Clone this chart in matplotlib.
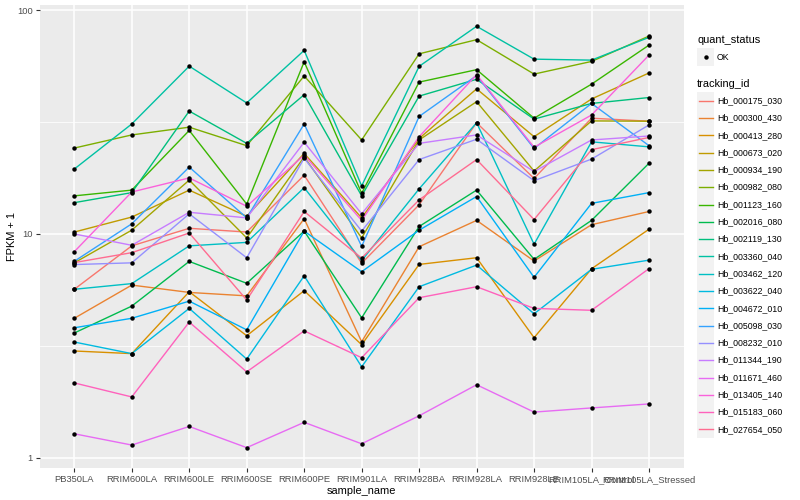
import numpy as np
import matplotlib
matplotlib.use("Agg")
import matplotlib.pyplot as plt
from matplotlib.patches import Rectangle
from matplotlib.lines import Line2D

plt.rcParams['font.family'] = ['Liberation Sans', 'DejaVu Sans']

# ---------------------------------------------------------------------------
# Data (FPKM + 1)
# ---------------------------------------------------------------------------
samples = ["PB350LA", "RRIM600LA", "RRIM600LE", "RRIM600SE", "RRIM600PE",
           "RRIM901LA", "RRIM928BA", "RRIM928LA", "RRIM928LE",
           "RRIM105LA_Control", "RRIM105LA_Stressed"]

tracking_ids = ["Hb_000175_030", "Hb_000300_430", "Hb_000413_280", "Hb_000673_020",
                "Hb_000934_190", "Hb_000982_080", "Hb_001123_160", "Hb_002016_080",
                "Hb_002119_130", "Hb_003360_040", "Hb_003462_120", "Hb_003622_040",
                "Hb_004672_010", "Hb_005098_030", "Hb_008232_010", "Hb_011344_190",
                "Hb_011671_460", "Hb_013405_140", "Hb_015183_060", "Hb_027654_050"]

hb_000175_030 = [5.66, 8.85, 10.6, 10.2, 18.3, 7.4, 13.5, 31.4, 17.7, 32.9, 31.9]
hb_000300_430 = [4.2, 5.91, 5.48, 5.29, 11.7, 3.3, 8.77, 11.5, 7.57, 11.0, 12.6]
hb_000413_280 = [3.0, 2.92, 5.52, 3.51, 5.58, 3.2, 7.31, 7.83, 3.44, 6.99, 10.5]
hb_000673_020 = [10.2, 11.9, 15.7, 12.0, 22.9, 11.8, 26.7, 44.5, 27.2, 40.1, 52.4]
hb_000934_190 = [7.43, 10.4, 17.4, 9.6, 22.1, 9.6, 26.3, 39.0, 19.1, 32.0, 31.9]
hb_000982_080 = [24.2, 27.7, 30.0, 24.8, 50.8, 26.3, 63.8, 73.8, 51.8, 59.0, 76.6]
hb_001123_160 = [14.8, 15.7, 29.0, 13.6, 58.8, 15.2, 47.7, 54.2, 32.9, 46.7, 69.8]
hb_002016_080 = [3.61, 4.76, 7.54, 6.02, 10.3, 4.22, 10.8, 15.7, 7.7, 11.5, 20.7]
hb_002119_130 = [13.8, 15.3, 35.4, 25.4, 41.9, 14.8, 41.3, 49.1, 32.6, 38.3, 40.7]
hb_003360_040 = [19.5, 31.0, 56.2, 38.5, 66.1, 16.4, 56.1, 84.7, 60.4, 59.8, 75.6]
hb_003462_120 = [5.66, 6.0, 8.85, 9.17, 16.1, 7.6, 15.9, 31.4, 9.0, 25.8, 24.5]
hb_003622_040 = [3.29, 2.92, 4.65, 2.76, 6.5, 2.55, 5.81, 7.26, 4.40, 6.95, 7.64]
hb_004672_010 = [3.81, 4.2, 5.01, 3.73, 10.3, 6.78, 10.4, 14.7, 6.4, 13.7, 15.3]
hb_005098_030 = [7.55, 11.1, 19.9, 11.8, 31.0, 8.8, 33.5, 51.0, 24.1, 38.3, 24.8]
hb_008232_010 = [7.3, 7.43, 12.3, 7.83, 21.8, 10.3, 21.5, 26.5, 17.3, 21.6, 30.7]
hb_011344_190 = [10.0, 8.9, 12.5, 11.8, 25.7, 12.3, 25.4, 27.7, 19.0, 26.3, 27.4]
hb_011671_460 = [1.28, 1.14, 1.38, 1.11, 1.44, 1.155, 1.54, 2.12, 1.60, 1.67, 1.74]
hb_013405_140 = [8.33, 15.4, 17.8, 13.3, 22.5, 11.5, 27.2, 51.5, 24.4, 34.0, 63.0]
hb_015183_060 = [2.16, 1.87, 4.04, 2.42, 3.69, 2.80, 5.19, 5.81, 4.65, 4.56, 7.0]
hb_027654_050 = [7.45, 8.25, 10.1, 5.07, 12.6, 7.8, 14.2, 21.5, 11.6, 23.8, 27.0]

series = [hb_000175_030, hb_000300_430, hb_000413_280, hb_000673_020, hb_000934_190,
          hb_000982_080, hb_001123_160, hb_002016_080, hb_002119_130, hb_003360_040,
          hb_003462_120, hb_003622_040, hb_004672_010, hb_005098_030, hb_008232_010,
          hb_011344_190, hb_011671_460, hb_013405_140, hb_015183_060, hb_027654_050]

# ggplot2 default hue palette for 20 levels
colors = ["#F8766D", "#EA8331", "#D89000", "#C09B00", "#A3A500", "#7CAE00",
          "#39B600", "#00BB4E", "#00BF7D", "#00C1A3", "#00BFC4", "#00BAE0",
          "#00B0F6", "#35A2FF", "#9590FF", "#C77CFF", "#E76BF3", "#FA62DB",
          "#FF62BC", "#FF6C91"]

W, H = 800, 500
PX = 72.0 / 100  # pixel -> point at dpi 100


def fx(x):
    return x / W


def fy(y):
    return 1 - y / H


fig = plt.figure(figsize=(8, 5), dpi=100)
left, right, top, bottom = 39.8, 683.5, 5.0, 468.3
ax = fig.add_axes([fx(left), fy(bottom), fx(right) - fx(left), fy(top) - fy(bottom)])
ax.set_facecolor("#EBEBEB")

x = np.arange(len(samples))
for vals, col in zip(series, colors):
    ax.plot(x, vals, color=col, lw=1.0, solid_capstyle='butt', zorder=3)
for vals in series:
    ax.plot(x, vals, 'o', color='black', ms=3.2, mew=0, zorder=4)

ax.set_yscale('log')
ax.set_ylim(10 ** -0.047, 10 ** 2.023)
ax.set_xlim(-0.6, len(samples) - 0.4)

ax.set_yticks([1, 10, 100])
ax.set_yticklabels(["1", "10", "100"])
ax.set_yticks([10 ** 0.5, 10 ** 1.5], minor=True)
ax.yaxis.set_minor_formatter(plt.NullFormatter())
ax.set_xticks(x)
ax.set_xticklabels(samples)

ax.grid(True, which='major', color='white', lw=1.1, zorder=1)
ax.grid(True, which='minor', axis='y', color='white', lw=0.55, zorder=1)
ax.set_axisbelow(True)
for s in ax.spines.values():
    s.set_visible(False)
ax.tick_params(axis='both', which='major', length=3, width=0.8, color='#333333',
               labelsize=9.4 * PX, labelcolor='#4D4D4D', pad=2)
ax.tick_params(axis='y', which='minor', length=0)

ax.set_xlabel("sample_name", fontsize=11 * PX, labelpad=1)
ax.set_ylabel("FPKM + 1", fontsize=11 * PX, labelpad=0)

# ---------------------------------------------------------------------------
# Legends (drawn by hand, ggplot style)
# ---------------------------------------------------------------------------
key_x, key_w = 697, 17.3
text_x = 717

fig.text(fx(key_x), fy(40), "quant_status", fontsize=11 * PX, va='center', ha='left')
fig.patches.append(Rectangle((fx(key_x), fy(57 + key_w / 2)), key_w / W, key_w / H,
                             transform=fig.transFigure, facecolor='#F2F2F2',
                             edgecolor='none'))
fig.lines.append(Line2D([fx(key_x + key_w / 2)], [fy(57)], marker='o', ms=3.2,
                        mew=0, color='black', transform=fig.transFigure))
fig.text(fx(text_x), fy(57), "OK", fontsize=8.8 * PX, va='center', ha='left')

fig.text(fx(key_x), fy(84), "tracking_id", fontsize=11 * PX, va='center', ha='left')
y0, dy = 100.7, 17.3
for i, (name, col) in enumerate(zip(tracking_ids, colors)):
    yc = y0 + i * dy
    fig.patches.append(Rectangle((fx(key_x), fy(yc + key_w / 2)), key_w / W, key_w / H,
                                 transform=fig.transFigure, facecolor='#F2F2F2',
                                 edgecolor='none'))
    fig.lines.append(Line2D([fx(key_x + 1.7), fx(key_x + key_w - 1.7)], [fy(yc), fy(yc)],
                            color=col, lw=1.0, transform=fig.transFigure))
    fig.text(fx(text_x), fy(yc), name, fontsize=8.8 * PX, va='center', ha='left')

fig.savefig("out.png", dpi=100)
